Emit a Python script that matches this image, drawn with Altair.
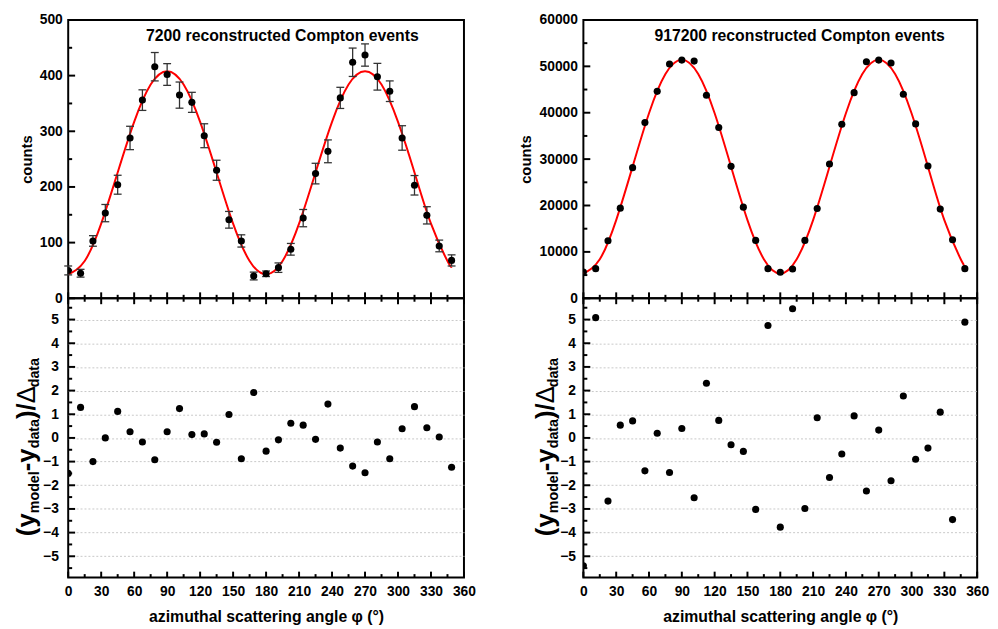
import altair as alt
import pandas as pd

FONT = "Liberation Sans"

# ---------------- data ----------------
phi = [0, 11.25, 22.5, 33.75, 45, 56.25, 67.5, 78.75, 90, 101.25, 112.5, 123.75,
       135, 146.25, 157.5, 168.75, 180, 191.25, 202.5, 213.75, 225, 236.25, 247.5,
       258.75, 270, 281.25, 292.5, 303.75, 315, 326.25, 337.5, 348.75]

counts_left = [50, 45, 103, 153, 204, 288, 356, 416, 402, 365, 352, 292, 230, 141, 103, 40,
               44, 55, 88, 144, 224, 264, 360, 424, 437, 398, 372, 288, 203, 149, 94, 68]
err_left = [8, 7, 9.5, 15.5, 17, 21, 18.5, 25.5, 19.5, 23.5, 18, 21.5, 18, 15, 11, 7,
            5, 8.5, 10.5, 15.5, 18.5, 20.5, 19, 25.5, 20, 24, 18.5, 22, 17.5, 15.5, 10.5, 10]

counts_right = [5670, 6380, 12410, 19430, 28160, 37870, 44610, 50500, 51350, 51130, 43760,
                36810, 28440, 19650, 12480, 6380, 5600, 6310, 12480, 19360, 28940, 37520,
                44330, 50990, 51350, 50710, 43970, 37590, 28510, 19220, 12620, 6380]

curve_phi = [0, 15, 30, 45, 60, 75, 90, 105, 120, 135, 150, 165, 180, 195, 210, 225,
             240, 255, 270, 285, 300, 315, 330, 345, 348.75]
curve_left = [43, 67, 134, 226, 317, 384, 408, 384, 317, 226, 134, 67, 43, 67, 134, 226,
              317, 384, 408, 384, 317, 226, 134, 67, 57]
curve_right = [5330, 8420, 16860, 28380, 39900, 48340, 51430, 48340, 39900, 28380, 16860,
               8420, 5330, 8420, 16860, 28380, 39900, 48340, 51430, 48340, 39900, 28380,
               16860, 8420, 7090]

res_left = [-1.5, 1.29, -1.0, 0.0, 1.12, 0.26, -0.17, -0.92, 0.26, 1.24, 0.14, 0.17, -0.18,
            0.99, -0.88, 1.92, -0.56, -0.08, 0.62, 0.54, -0.06, 1.43, -0.43, -1.19, -1.47,
            -0.17, -0.88, 0.39, 1.32, 0.43, 0.04, -1.24]
res_right = [-5.4, 5.08, -2.67, 0.54, 0.72, -1.39, 0.2, -1.46, 0.4, -2.53, 2.31, 0.74, -0.29,
             -0.57, -3.02, 4.75, -3.77, 5.46, -2.98, 0.85, -1.67, -0.68, 0.93, -2.24, 0.33,
             -1.81, 1.77, -0.9, -0.43, 1.09, -3.45, 4.89]

titles = ["7200 reconstructed Compton events", "917200 reconstructed Compton events"]

x_major = [0, 30, 60, 90, 120, 150, 180, 210, 240, 270, 300, 330, 360]
x_minor = [15, 45, 75, 105, 135, 165, 195, 225, 255, 285, 315, 345]
yl_major = [0, 100, 200, 300, 400, 500]
yl_minor = [50, 150, 250, 350, 450]
yr_major = [0, 10000, 20000, 30000, 40000, 50000, 60000]
yr_minor = [5000, 15000, 25000, 35000, 45000, 55000]
res_major = [-5, -4, -3, -2, -1, 0, 1, 2, 3, 4, 5]
res_minor = [-5.5, -4.5, -3.5, -2.5, -1.5, -0.5, 0.5, 1.5, 2.5, 3.5, 4.5, 5.5]

# ---------------- layout ----------------
HT = 282
HB = 283
MAJ = 6
MIN = 3.5
YMAJ = 7
YMIN = 4

xs = alt.Scale(domain=[0, 360], nice=False, zero=False)


def tick_layers(xsc_enc, ysc_enc, H, top_x, bottom_x, left_y, ymaj, ymin):
    layers = []
    for vals, ln in ((x_major, MAJ), (x_minor, MIN)):
        df = pd.DataFrame({"phi": vals})
        if bottom_x:
            layers.append(alt.Chart(df).mark_rule(color="black", strokeWidth=2).encode(
                x=xsc_enc, y=alt.value(H), y2=alt.value(H - ln)))
        if top_x:
            layers.append(alt.Chart(df).mark_rule(color="black", strokeWidth=2).encode(
                x=xsc_enc, y=alt.value(0), y2=alt.value(ln)))
    if left_y:
        for vals, ln in ((ymaj, YMAJ), (ymin, YMIN)):
            df = pd.DataFrame({"y": vals})
            layers.append(alt.Chart(df).mark_rule(color="black", strokeWidth=2).encode(
                y=ysc_enc, x=alt.value(0), x2=alt.value(ln)))
    return layers


def top_panel(counts, err, cvals, ydom, ymaj, ymin, title, W, tx, tpad):
    ys = alt.Scale(domain=ydom, nice=False, zero=False)
    X = alt.X("phi:Q", scale=xs, axis=None)
    yaxis = alt.Axis(values=ymaj, title="counts", ticks=False, domain=False, grid=False,
                     labelPadding=6, titlePadding=tpad, format="d", titleFontSize=15)
    Y = alt.Y("y:Q", scale=ys, axis=yaxis)
    pts = pd.DataFrame({"phi": phi, "y": counts})
    layers = []
    cdf = pd.DataFrame({"phi": curve_phi, "y": cvals})
    layers.append(alt.Chart(cdf).mark_line(color="#ff0000", strokeWidth=2,
                                           interpolate="natural", clip=True).encode(x=X, y=Y))
    if err is not None:
        lo = [c - e for c, e in zip(counts, err)]
        hi = [c + e for c, e in zip(counts, err)]
        edf = pd.DataFrame({"phi": phi, "y": lo, "hi": hi})
        layers.append(alt.Chart(edf).mark_rule(color="#333333", strokeWidth=1.3).encode(
            x=X, y=Y, y2="hi:Q"))
        for vals in (lo, hi):
            d = pd.DataFrame({"phi": phi, "y": vals})
            layers.append(alt.Chart(d).mark_point(shape="M-1,0L1,0", size=64, filled=False,
                                                  color="#333333", strokeWidth=1.3,
                                                  opacity=1).encode(x=X, y=Y))
    layers.append(alt.Chart(pts).mark_circle(size=52, color="black", opacity=1,
                                             clip=True).encode(x=X, y=Y))
    layers += tick_layers(X, Y, HT, False, True, True, ymaj, ymin)
    tdf = pd.DataFrame({"t": [title]})
    layers.append(alt.Chart(tdf).mark_text(font=FONT, fontSize=16, fontWeight="bold",
                                           align="center", baseline="middle",
                                           color="black").encode(
        text="t:N", x=alt.value(tx), y=alt.value(16)))
    return alt.layer(*layers).properties(width=W, height=HT)


def bottom_panel(res, xbig, xsub, labpad, W):
    ys = alt.Scale(domain=[-5.9, 5.9], nice=False, zero=False)
    xaxis = alt.Axis(values=x_major, title="azimuthal scattering angle φ (°)", ticks=False,
                     domain=False, grid=False, labelPadding=7, titlePadding=11,
                     titleFontSize=16, format="d", labelOverlap=False, labelFlush=False)
    X = alt.X("phi:Q", scale=xs, axis=xaxis)
    yaxis = alt.Axis(values=res_major, title=None, ticks=False, domain=False, grid=True,
                     gridDash=[2, 2], gridColor="#c8c8c8", gridWidth=1,
                     labelPadding=labpad, format="d", labelOverlap=False)
    Y = alt.Y("y:Q", scale=ys, axis=yaxis)
    pts = pd.DataFrame({"phi": phi, "y": res})
    layers = [alt.Chart(pts).mark_circle(size=52, color="black", opacity=1,
                                         clip=True).encode(x=X, y=Y)]
    layers += tick_layers(X, Y, HB, True, True, True, res_major, res_minor)
    # composed axis title (y_model - y_data)/Δ_data
    B, S = 26, 14.5
    pieces = [("(y", B, "bold", 0.889), ("model", S, "bold", 2.945), ("-y", B, "bold", 0.889),
              ("data", S, "bold", 2.056), (")/", B, "bold", 0.611), ("Δ", B, "normal", 0.62),
              ("data", S, "bold", 2.056)]
    ypos = 241.0
    for txt, fs, fw, em in pieces:
        xv = xbig if fs == B else xsub
        d = pd.DataFrame({"t": [txt]})
        layers.append(alt.Chart(d).mark_text(font=FONT, fontSize=fs, fontWeight=fw, angle=270,
                                             align="left", baseline="alphabetic",
                                             color="black").encode(
            text="t:N", x=alt.value(xv), y=alt.value(ypos)))
        ypos -= em * fs
    return alt.layer(*layers).properties(width=W, height=HB)


WL = 401
WR = 399
left = alt.vconcat(
    top_panel(counts_left, err_left, curve_left, [0, 500], yl_major, yl_minor, titles[0],
              WL, 217, 5),
    bottom_panel(res_left, -34, -30, 10, WL),
    spacing=0, bounds="flush")
right = alt.vconcat(
    top_panel(counts_right, None, curve_right, [0, 60000], yr_major, yr_minor, titles[1],
              WR, 219, 6),
    bottom_panel(res_right, -29.5, -25.5, 8, WR),
    spacing=0, bounds="flush")

chart = alt.hconcat(left, right, spacing=41).properties(
    padding={"left": 4, "top": 0, "right": 0, "bottom": 0}
).configure_view(stroke="black", strokeWidth=2).configure_axis(
    labelFont=FONT, labelFontSize=14, labelFontWeight="bold", labelColor="black",
    titleFont=FONT, titleFontWeight="bold", titleColor="black")

chart.save("out.html", embed_options={"renderer": "svg", "actions": False})
